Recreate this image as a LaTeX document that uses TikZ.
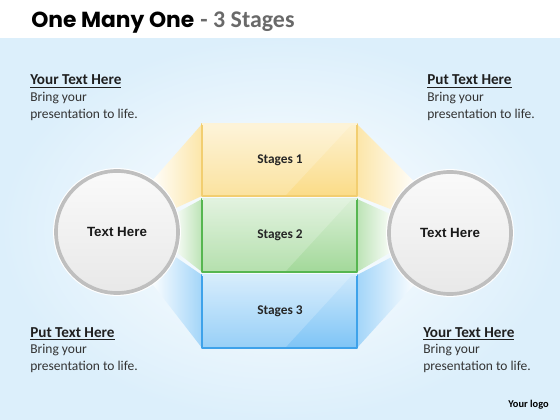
\documentclass[tikz,border=0pt]{standalone}
\usepackage{fontspec}
\setmainfont{Carlito}
\newfontfamily\titlefont{Poppins}
\newfontfamily\hubfont{Liberation Sans}
\usetikzlibrary{calc}
\definecolor{bgblue}{RGB}{220,239,251}
\definecolor{stageyellow}{RGB}{250,216,122}
\definecolor{stagegreen}{RGB}{152,212,142}
\definecolor{stageblue}{RGB}{112,190,245}
\definecolor{edgeyellow}{RGB}{242,206,112}
\definecolor{edgegreen}{RGB}{86,182,80}
\definecolor{edgeblue}{RGB}{62,162,234}
\definecolor{titlegray}{RGB}{105,105,105}
\tikzset{
  head/.style={anchor=base west, inner sep=0pt, text=black!88,
    font=\fontsize{10.8}{13}\selectfont\bfseries},
  body/.style={anchor=base west, inner sep=0pt, text=black!80,
    font=\fontsize{9.6}{12}\selectfont},
  hub/.style={circle, minimum size=3.05cm, inner sep=0pt, draw=gray!50,
    line width=2.6pt, top color=white!96!gray, bottom color=gray!18,
    font=\hubfont\fontsize{9.5}{11}\selectfont\bfseries, text=black!90},
  stagelabel/.style={inner sep=0pt, text=black!85,
    font=\fontsize{9.5}{11}\selectfont\bfseries},
}
% heading + two lines of text in a corner
\newcommand\cornerblock[4]{%
  \node[head] (#1) at (#2,#3) {\underline{#4}};
  \node[body] (#1a) at (#2,#3+16.5) {Bring your};
  \node[body] (#1b) at (#2,#3+33) {presentation to life.};
}
\begin{document}
\begin{tikzpicture}[x=0.025cm, y=-0.025cm, line join=round]
  \useasboundingbox (0,0) rectangle (560,420);
  % background
  \fill[white] (0,0) rectangle (560,38);
  \shade[inner color=white, outer color=bgblue] (0,38) rectangle (560,420);
  \fill[white] (0,36) rectangle (560,38);

  % title
  \node[anchor=base west, inner sep=0pt] (title) at (31,28)
    {\titlefont\fontsize{15.5}{18}\selectfont\bfseries One Many One};
  \node[anchor=base west, inner sep=0pt, text=titlegray] (subtitle) at ([xshift=4pt]title.base east)
    {\fontsize{17}{20}\selectfont\bfseries - 3 Stages};

  \coordinate (lc) at (117,232);
  \coordinate (rc) at (450,233);

  % fans and stage boxes
  \foreach \n/\t/\b/\c/\e/\ua/\la/\lab in {
      1/124/196/stageyellow/edgeyellow/-56/-22/Stages 1,
      2/199/272/stagegreen/edgegreen/-17/17/Stages 2,
      3/275/348/stageblue/edgeblue/22/56/Stages 3}{
    \shade[left color=white, right color=\c!65] ($(lc)+(\ua:58)$) -- (202,\t)
      -- (202,\b) -- ($(lc)+(\la:58)$) -- cycle;
    \shade[left color=\c!65, right color=white] ($(rc)+(180-\ua:58)$) -- (357,\t)
      -- (357,\b) -- ($(rc)+(180-\la:58)$) -- cycle;
    \shade[top color=\c!35, bottom color=\c!90] (202,\t) rectangle (357,\b);
    \fill[white, opacity=.2] (202,\t) -- (352,\t) -- (285,\b) -- (202,\b) -- cycle;
    \draw[\e, line width=1.1pt] (202,\t) rectangle (357,\b);
    \draw[white!70!\c, line width=1.1pt] (202,\t) -- (357,\t);
    \node[stagelabel] (s\n) at (280,{(\t+\b)/2}) {\lab};
  }

  % hubs
  \draw[white, line width=1pt] (lc) circle [radius=1.58cm];
  \draw[white, line width=1pt] (rc) circle [radius=1.58cm];
  \node[hub] (lhub) at (lc) {Text Here};
  \node[hub] (rhub) at (rc) {Text Here};

  % corner texts
  \cornerblock{tl}{30}{85}{Your Text Here}
  \cornerblock{tr}{427}{85}{Put Text Here}
  \cornerblock{bl}{30}{337}{Put Text Here}
  \cornerblock{br}{423}{337}{Your Text Here}

  \node[anchor=base east, inner sep=0pt, font=\fontsize{7.4}{9}\selectfont\bfseries]
    (logo) at (549,407) {Your logo};
\end{tikzpicture}
\end{document}
